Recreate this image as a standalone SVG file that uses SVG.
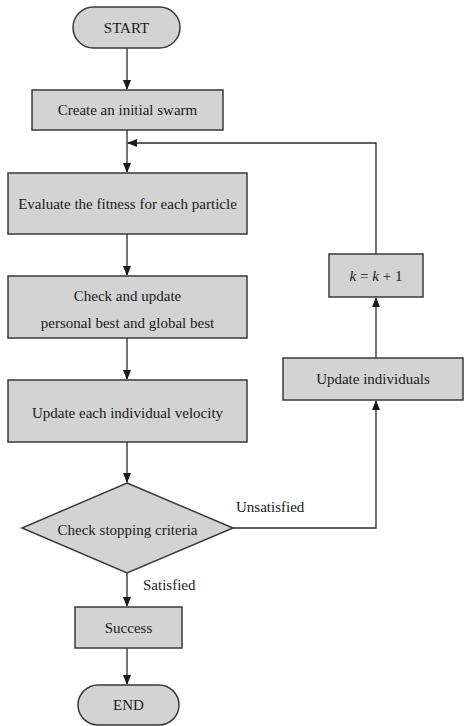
<svg xmlns="http://www.w3.org/2000/svg" width="465" height="726" viewBox="0 0 465 726">
<defs>
<marker id="arr" markerWidth="10" markerHeight="8" refX="9" refY="4" orient="auto" markerUnits="userSpaceOnUse">
<path d="M0,0 L10,4 L0,8 Z" fill="#1a1a1a"/>
</marker>
<style>
.box{fill:#d3d3d3;stroke:#3a3a3a;stroke-width:1.5}
.t{font-size:15px;fill:#1a1a1a;text-anchor:middle}
.lbl{font-size:15px;fill:#1a1a1a}
.c{fill:none;stroke:#2a2a2a;stroke-width:1.3}
</style>
</defs>
<rect width="465" height="726" fill="#ffffff"/>
<g font-family="'Liberation Serif', 'DejaVu Serif', serif">
<g id="connectors">
<line class="c" x1="127" y1="48" x2="127" y2="89" marker-end="url(#arr)"/>
<line class="c" x1="127" y1="130" x2="127" y2="172" marker-end="url(#arr)"/>
<polyline class="c" points="376,254 376,143 128,143" marker-end="url(#arr)"/>
<line class="c" x1="127" y1="234" x2="127" y2="275" marker-end="url(#arr)"/>
<line class="c" x1="127" y1="338" x2="127" y2="379" marker-end="url(#arr)"/>
<line class="c" x1="127" y1="442" x2="127" y2="482" marker-end="url(#arr)"/>
<polyline class="c" points="233,528 376,528 376,401" marker-end="url(#arr)"/>
<line class="c" x1="376" y1="358" x2="376" y2="298" marker-end="url(#arr)"/>
<line class="c" x1="127" y1="573" x2="127" y2="606" marker-end="url(#arr)"/>
<line class="c" x1="127" y1="648" x2="127" y2="684" marker-end="url(#arr)"/>
<text class="lbl" x="236" y="512">Unsatisfied</text>
<text class="lbl" x="143" y="590">Satisfied</text>
</g>
<g id="start">
<rect class="box" x="73" y="7" width="107" height="41" rx="20.5"/>
<text class="t" x="126.5" y="33">START</text>
</g>
<g id="create">
<rect class="box" x="32" y="90" width="191" height="40"/>
<text class="t" x="127.5" y="115">Create an initial swarm</text>
</g>
<g id="evaluate">
<rect class="box" x="8" y="173" width="239" height="61"/>
<text class="t" x="127.5" y="209">Evaluate the fitness for each particle</text>
</g>
<g id="check-update">
<rect class="box" x="8" y="276" width="239" height="62"/>
<text class="t" x="127.5" y="301">Check and update</text>
<text class="t" x="127.5" y="328">personal best and global best</text>
</g>
<g id="update-velocity">
<rect class="box" x="8" y="380" width="239" height="62"/>
<text class="t" x="127.5" y="418">Update each individual velocity</text>
</g>
<g id="check-stopping">
<polygon class="box" points="127,483 233,528 127,573 22,528"/>
<text class="t" x="127.5" y="535">Check stopping criteria</text>
</g>
<g id="success">
<rect class="box" x="75" y="607" width="107" height="41"/>
<text class="t" x="128.5" y="633">Success</text>
</g>
<g id="end">
<rect class="box" x="78" y="685" width="101" height="40" rx="20"/>
<text class="t" x="128.5" y="710">END</text>
</g>
<g id="update-individuals">
<rect class="box" x="283" y="358" width="180" height="42"/>
<text class="t" x="373" y="384">Update individuals</text>
</g>
<g id="k-increment">
<rect class="box" x="329" y="254" width="94" height="43"/>
<text class="t" x="376" y="281"><tspan font-style="italic">k</tspan> = <tspan font-style="italic">k</tspan> + 1</text>
</g>
</g>
</svg>
